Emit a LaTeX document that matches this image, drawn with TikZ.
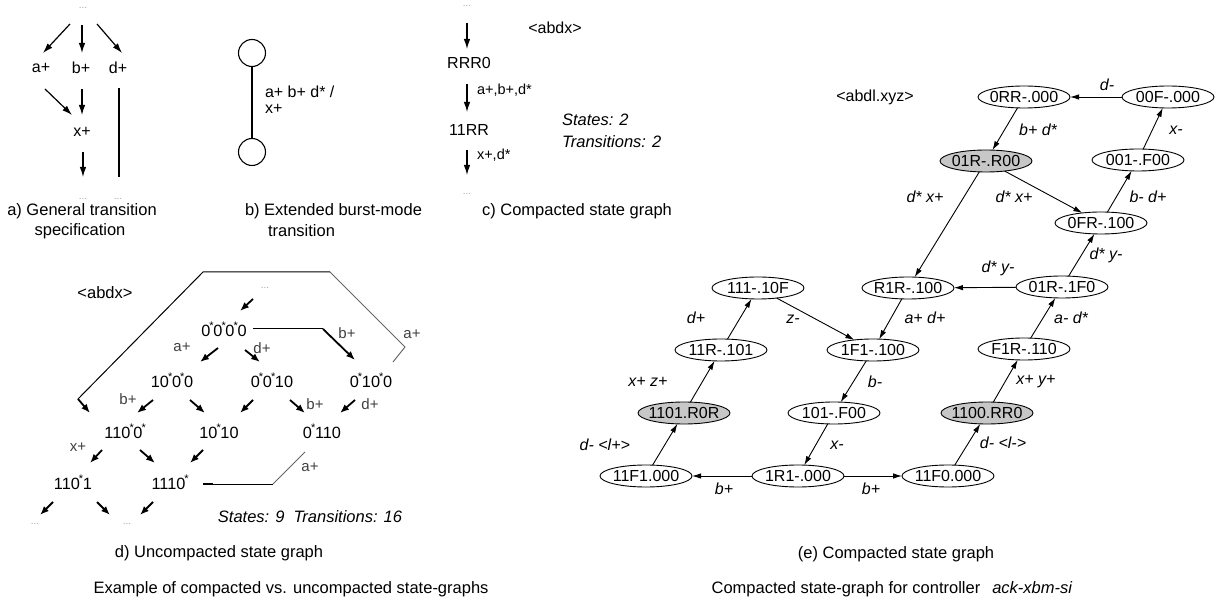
\documentclass[tikz,border=0pt]{standalone}
\usepackage{fontspec}
\setmainfont{Liberation Sans}
\usetikzlibrary{arrows.meta,calc,shapes.geometric}
% a "don't care" zero: 0 with a small star at its upper right
\newcommand\zs{0\kern-0.06em\raisebox{0.45em}{\fontsize{11}{11}\selectfont *}\kern-0.02em}
% state text of fixed outline size, centred on the node
\newcommand\nt[1]{\makebox[0pt]{\raisebox{-0.36em}[0pt][0pt]{#1}}}
\begin{document}
\begin{tikzpicture}[x=1pt,y=-1pt,
  every node/.style={inner sep=0pt, outer sep=0pt},
  txt/.style={font=\fontsize{16}{18}\selectfont},
  sml/.style={font=\fontsize{14.5}{16}\selectfont},
  captxt/.style={font=\fontsize{16.5}{19}\selectfont},
  ital/.style={font=\fontsize{16.5}{19}\selectfont\itshape},
  dotsty/.style={font=\fontsize{10}{10}\selectfont, text=black!35},
  arr/.style={line width=1.2pt, -{Latex[length=10pt,width=6.5pt]}},
  stub/.style={line width=1.8pt, -{Latex[length=9pt,width=7pt]}},
  dlab/.style={font=\fontsize{15}{17}\selectfont, text=black!75},
  dst/.style={font=\fontsize{16.3}{18}\selectfont},
  st/.style={draw, ellipse, line width=0.9pt, minimum width=92pt, minimum height=22pt, font=\fontsize{16}{18}\selectfont},
  gst/.style={st, fill=black!22},
  el/.style={font=\fontsize{16}{18}\selectfont\itshape},
  ea/.style={line width=0.9pt, -{Latex[length=9pt,width=5.5pt]}},
]
\useasboundingbox (0,0) rectangle (1216,601);

% ---------- a) general transition specification ----------
\node[dotsty] (at) at (83,8) {...};
\node[txt] (aa) at (41,68) {a+};
\node[txt] (ab) at (81,68) {b+};
\node[txt] (ad) at (118,68) {d+};
\node[txt] (ax) at (82,132) {x+};
\node[dotsty] (ae1) at (83,199) {...};
\node[dotsty] (ae2) at (118,199) {...};
\draw[arr] ($(at)+(-13,16)$) -- ($(aa)+(2,-15)$);
\draw[arr] ($(at)+(-1,17)$) -- ($(ab)+(1,-15)$);
\draw[arr] ($(at)+(14,16)$) -- ($(ad)+(4,-15)$);
\draw[arr] ($(aa)+(4,21)$) -- ($(ax)+(-10,-17)$);
\draw[arr] ($(ab)+(1,21)$) -- ($(ax)+(0,-17)$);
\draw[line width=1.2pt] ($(ad)+(1,20)$) -- ($(ae2)+(1,-22)$);
\draw[arr] ($(ax)+(1,20)$) -- ($(ae1)+(0,-22)$);
\node[captxt] (acap1) at (82,211) {a) General transition};
\node[captxt] (acap2) at (80,231) {specification};

% ---------- b) extended burst-mode transition ----------
\node[draw, circle, line width=1.1pt, minimum size=27pt] (b1) at (252,53) {};
\node[draw, circle, line width=1.1pt, minimum size=27pt] (b2) at (252,152) {};
\draw[line width=1.1pt] (b1) -- (b2);
\node[txt, anchor=west] (bl1) at (265,92) {a+ b+ d* /};
\node[txt, anchor=west] (bl2) at (265,109) {x+};
\node[captxt, anchor=west] (bcap1) at (245,211) {b) Extended burst-mode};
\node[captxt, anchor=west] (bcap2) at (268,231) {transition};

% ---------- c) compacted state graph ----------
\node[dotsty] (ct) at (467,6) {...};
\node[txt] (c1) at (469,63) {RRR0};
\node[txt] (c2) at (469,130) {11RR};
\node[dotsty] (cb) at (467,194) {...};
\draw[arr] ($(ct)+(0,17)$) -- ($(c1)+(-2,-14)$);
\draw[arr] ($(c1)+(-2,21)$) -- ($(c2)+(-2,-18)$);
\draw[arr] ($(c2)+(-2,20)$) -- ($(cb)+(0,-19)$);
\node[sml, anchor=west] (cl1) at (477,90) {a+,b+,d*};
\node[sml, anchor=west] (cl2) at (477,155) {x+,d*};
\node[txt] (cv) at (555,28) {<abdx>};
\node[ital, anchor=west] (cs1) at (562,120) {States: 2};
\node[ital, anchor=west] (cs2) at (562,142) {Transitions: 2};
\node[captxt] (ccap) at (577,211) {c) Compacted state graph};

% ---------- d) uncompacted state graph ----------
\node[captxt] (dv) at (105,293) {<abdx>};
\node[dotsty] (dt) at (265,288) {...};
\node[dst] (s0000) at (224,329) {\zs\zs\zs0};
\node[dst] (s1000) at (172,380) {1\zs\zs0};
\node[dst] (s0010) at (272,380) {\zs\zs10};
\node[dst] (s0100) at (371,380) {\zs1\zs0};
\node[dst] (s1100) at (125,431) {11\zs\zs};
\node[dst] (s1010) at (219,431) {1\zs10};
\node[dst] (s0110) at (322,431) {\zs110};
\node[dst] (s1101) at (73,482) {11\zs1};
\node[dst] (s1110) at (170,482) {111\zs};
\node[dotsty] (db1) at (35,524) {...};
\node[dotsty] (db2) at (127,524) {...};

\draw[stub] ($(dt)+(-12,11)$) -- ($(dt)+(-25,23)$);
\draw[stub] ($(s0000)+(-6,19)$) -- ($(s0000)+(-24,33)$);
\draw[stub] ($(s0000)+(21,21)$) -- ($(s0000)+(36,33)$);
\draw[line width=1pt] ($(s0000)+(29,0)$) -- ($(s0000)+(99,0)$);
\draw[stub] ($(s0000)+(99,0)$) -- ($(s0100)+(-16,-20)$);
\draw[stub] ($(s1000)+(-19,20)$) -- ($(s1000)+(-35,33)$);
\draw[stub] ($(s1000)+(18,20)$) -- ($(s1000)+(33,33)$);
\draw[stub] ($(s0010)+(-19,20)$) -- ($(s0010)+(-32,33)$);
\draw[stub] ($(s0010)+(18,20)$) -- ($(s0010)+(33,33)$);
\draw[stub] ($(s0100)+(-16,20)$) -- ($(s0100)+(-31,33)$);
\draw[stub] ($(s1100)+(-23,19)$) -- ($(s1100)+(-35,32)$);
\draw[stub] ($(s1100)+(15,19)$) -- ($(s1100)+(30,32)$);
\draw[stub] ($(s1010)+(-16,19)$) -- ($(s1010)+(-29,32)$);
\draw[stub] ($(s1101)+(-20,20)$) -- ($(s1101)+(-33,33)$);
\draw[stub] ($(s1101)+(24,20)$) -- ($(s1101)+(37,33)$);
\draw[stub] ($(s1110)+(-17,20)$) -- ($(s1110)+(-30,33)$);

% a+ from 0*10*0 round the top to 110*0*
\coordinate (r1) at (405,347);
\coordinate (r2) at (330,272);
\coordinate (r3) at (203,272);
\coordinate (r4) at (78,399);
\draw[line width=1pt, black!60] ($(s0100)+(22,-18)$) -- (r1) -- (r2);
\draw[line width=1pt] (r2) -- (r3) -- (r4);
\draw[stub] (r4) -- ($(s1100)+(-35,-18)$);
% a+ from 0*110 to 1110*
\coordinate (q1) at (273,484);
\draw[line width=1pt, black!60] ($(s0110)+(-17,21)$) -- (q1);
\draw[line width=1pt] (q1) -- ($(s1110)+(43,2)$);
\draw[line width=2.2pt] ($(s1110)+(43,2)$) -- ($(s1110)+(33,2)$);

\node[dlab] (la1) at (182,347) {a+};
\node[dlab] (ld1) at (262,348) {d+};
\node[dlab] (lb1) at (347,333) {b+};
\node[dlab] (lb2) at (128,399) {b+};
\node[dlab] (lb3) at (315,404) {b+};
\node[dlab] (ld2) at (370,404) {d+};
\node[dlab] (lx1) at (78,447) {x+};
\node[dlab] (la2) at (412,334) {a+};
\node[dlab] (la3) at (310,467) {a+};
\node[ital] (dstat) at (310,517) {States: 9\hspace{9pt}Transitions: 16};
\node[captxt] (dcap) at (219,553) {d) Uncompacted state graph};
\node[captxt] (fcap1) at (291,589) {Example of compacted vs. uncompacted state-graphs};

% ---------- e) compacted state graph of ack-xbm-si ----------
\node[txt] (ev) at (875,97) {<abdl.xyz>};
\node[st]  (n0RR) at (1024,97) {\nt{0RR-.000}};
\node[st]  (n00F) at (1168,97) {\nt{00F-.000}};
\node[gst] (n01R) at (986,161) {\nt{01R-.R00}};
\node[st]  (n001) at (1138,160) {\nt{001-.F00}};
\node[st]  (n0FR) at (1101,223) {\nt{0FR-.100}};
\node[st]  (n111) at (758,288) {\nt{111-.10F}};
\node[st]  (nR1R) at (908,288) {\nt{R1R-.100}};
\node[st]  (n01F) at (1062,287) {\nt{01R-.1F0}};
\node[st]  (n11R) at (721,350) {\nt{11R-.101}};
\node[st]  (n1F1) at (873,350) {\nt{1F1-.100}};
\node[st]  (nF1R) at (1024,349) {\nt{F1R-.110}};
\node[gst] (n1101) at (684,413) {\nt{1101.R0R}};
\node[st]  (n101) at (834,413) {\nt{101-.F00}};
\node[gst] (n1100) at (987,413) {\nt{1100.RR0}};
\node[st]  (n11F1) at (646,476) {\nt{11F1.000}};
\node[st]  (n1R1) at (798,476) {\nt{1R1-.000}};
\node[st]  (n11F0) at (948,476) {\nt{11F0.000}};

\draw[ea] (n00F) -- (n0RR);
\draw[ea] (n0RR) -- (n01R);
\draw[ea] (n001) -- (n00F);
\draw[ea] (n01R) -- (nR1R);
\draw[ea] (n01R) -- (n0FR);
\draw[ea] (n0FR) -- (n001);
\draw[ea] (n01F) -- (n0FR);
\draw[ea] (n01F) -- (nR1R);
\draw[ea] (nR1R) -- (n1F1);
\draw[ea] (n111) -- (n1F1);
\draw[ea] (n11R) -- (n111);
\draw[ea] (nF1R) -- (n01F);
\draw[ea] (n1101) -- (n11R);
\draw[ea] (n1F1) -- (n101);
\draw[ea] (n1100) -- (nF1R);
\draw[ea] (n11F1) -- (n1101);
\draw[ea] (n101) -- (n1R1);
\draw[ea] (n11F0) -- (n1100);
\draw[ea] (n1R1) -- (n11F1);
\draw[ea] (n1R1) -- (n11F0);

\node[el] (e1) at (1107,85) {d-};
\node[el] (e2) at (1038,130) {b+ d*};
\node[el] (e3) at (1176,130) {x-};
\node[el] (e4) at (925,197) {d* x+};
\node[el] (e5) at (1014,197) {d* x+};
\node[el] (e6) at (1148,197) {b- d+};
\node[el] (e7) at (998,268) {d* y-};
\node[el] (e8) at (1106,255) {d* y-};
\node[el] (e9) at (696,318) {d+};
\node[el] (e10) at (793,319) {z-};
\node[el] (e11) at (925,318) {a+ d+};
\node[el] (e12) at (1071,318) {a- d*};
\node[el] (e13) at (648,382) {x+ z+};
\node[el] (e14) at (875,382) {b-};
\node[el] (e15) at (1036,382) {x+ y+};
\node[el, anchor=east] (e16) at (630,445) {d- <l+>};
\node[el] (e17) at (837,445) {x-};
\node[el] (e18) at (1003,443) {d- <l->};
\node[el] (e19) at (724,489) {b+};
\node[el] (e20) at (871,489) {b+};
\node[captxt] (ecap) at (896,554) {(e) Compacted state graph};
\node[captxt] (fcap2) at (892,589) {Compacted state-graph for controller\hspace{12pt}\textit{ack-xbm-si}};
\end{tikzpicture}
\end{document}
